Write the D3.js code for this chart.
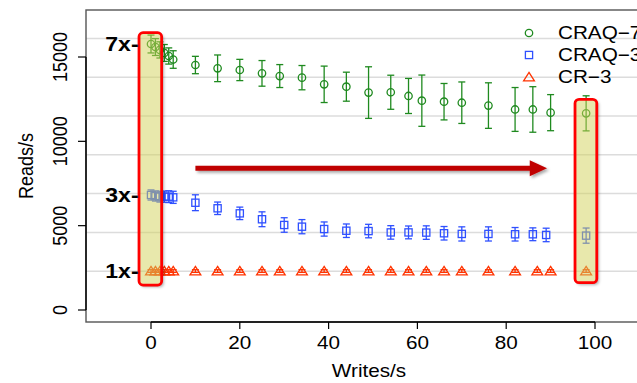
<!DOCTYPE html>
<html><head><meta charset="utf-8">
<script src="https://cdn.jsdelivr.net/npm/d3@7"></script>
<style>body{margin:0;background:#fff}svg{display:block;font-family:"Liberation Sans",Arial,Helvetica,sans-serif}</style>
</head><body><svg id="c" width="637" height="383"></svg>
<script>
// ---- data ----
const seriesNames = ["CRAQ\u22127", "CRAQ\u22123", "CR\u22123"];
const craq7X   = [0,1,2,3,4,5,10,15,20,25,29,34,39,44,49,54,58,61,66,70,76,82,86,90,98];
const craq7Y   = [15770,15590,15420,15240,15060,14850,14525,14330,14230,14030,13870,13775,13380,13240,12890,12910,12690,12410,12350,12290,12120,11890,11890,11700,11660];
const craq7Err = [530,500,480,500,480,520,515,790,630,760,680,720,1080,860,1530,1010,1040,1520,1080,1230,1350,1300,1350,1070,1040];
const craq3X   = [0,1,2,3,4,5,10,15,20,25,30,34,39,44,49,54,58,62,66,70,76,82,86,89,98];
const craq3Y   = [6820,6760,6720,6720,6720,6680,6360,6030,5730,5380,5040,4940,4800,4700,4680,4600,4600,4590,4550,4510,4510,4490,4490,4450,4410];
const craq3Err = [300,300,320,330,350,360,470,370,370,440,430,420,420,400,400,400,380,400,400,420,420,400,380,400,450];
const cr3X     = [0,1,2,3,4,5,10,15,20,25,29,34,39,44,49,54,58,62,66,70,76,82,87,90,98];
const cr3Y     = [2310,2310,2310,2310,2310,2310,2310,2310,2310,2310,2310,2310,2310,2310,2310,2310,2310,2310,2310,2310,2310,2310,2310,2310,2310];
const cr3Err   = [80,80,80,80,80,80,80,80,80,80,80,80,80,80,80,80,80,80,80,80,80,80,80,80,80];
const xTicks = [0,20,40,60,80,100];
const yTicks = [0,5000,10000,15000];
const gridValues = [2300,4600,6900,9200,11500,13800,16100];
const multLabels = ["7x-","3x-","1x-"];
const xLabel = "Writes/s", yLabel = "Reads/s";

// ---- drawing ----
const SX = 1.15; // horizontal stretch of the original image
const svg = d3.select("#c");
const x = d3.scaleLinear().domain([0,100]).range([151,595]);
const y = d3.scaleLinear().domain([0,15000]).range([310,57]);
const L = 86, R = 680, T = 10, B = 322;

const defs = svg.append("defs");
const f = defs.append("filter").attr("id","sh").attr("x","-50%").attr("y","-50%").attr("width","200%").attr("height","200%");
f.append("feDropShadow").attr("dx",2).attr("dy",2).attr("stdDeviation",1.8).attr("flood-color","#000").attr("flood-opacity",0.35);
const blur = defs.append("filter").attr("id","bl").attr("x","-50%").attr("y","-50%").attr("width","200%").attr("height","200%");
blur.append("feGaussianBlur").attr("stdDeviation",1.8);

function txt(g, s, tx, ty, opts={}) {
  const t = g.append("text")
    .attr("transform", `translate(${tx},${ty}) scale(${SX},1)` + (opts.rot ? " rotate(-90)" : ""))
    .attr("font-size", opts.size || 18)
    .attr("text-anchor", opts.anchor || "middle")
    .attr("fill", "#000")
    .text(s);
  if (opts.bold) t.attr("font-weight", "bold");
  if (opts.dy) t.attr("dy", opts.dy);
  return t;
}

// gridlines
svg.append("g").selectAll("line").data(gridValues).join("line")
  .attr("x1", L).attr("x2", R).attr("y1", d=>y(d)).attr("y2", d=>y(d))
  .attr("stroke", "#dcdcdc").attr("stroke-width", 1.5);

// box
svg.append("rect").attr("x", L).attr("y", T).attr("width", R-L).attr("height", B-T)
  .attr("fill","none").attr("stroke","#555").attr("stroke-width",1.4);

// axes
const ax = svg.append("g");
ax.append("line").attr("x1", x(0)).attr("x2", x(100)).attr("y1", B).attr("y2", B).attr("stroke","#000").attr("stroke-width",1.4);
xTicks.forEach(v => {
  ax.append("line").attr("x1", x(v)).attr("x2", x(v)).attr("y1", B).attr("y2", B+7).attr("stroke","#000").attr("stroke-width",1.2);
  txt(ax, String(v), x(v), 349);
});
ax.append("line").attr("x1", L).attr("x2", L).attr("y1", y(0)).attr("y2", y(15000)).attr("stroke","#000").attr("stroke-width",1.4);
yTicks.forEach(v => {
  ax.append("line").attr("x1", L-8).attr("x2", L).attr("y1", y(v)).attr("y2", y(v)).attr("stroke","#000").attr("stroke-width",1.2);
  txt(ax, String(v), 67, y(v), {rot:true});
});
txt(ax, xLabel, 369, 377);
txt(ax, yLabel, 33, 166, {rot:true});

// series
const series = [
  {xs: craq7X, ys: craq7Y, es: craq7Err, color: "#1f8a1f", shape: "circle"},
  {xs: craq3X, ys: craq3Y, es: craq3Err, color: "#2f50ff", shape: "square"},
  {xs: cr3X,   ys: cr3Y,   es: cr3Err,   color: "#ff3300", shape: "triangle"}
];
function marker(g, shape, cx, cy, color) {
  if (shape === "circle") {
    g.append("circle").attr("cx",cx).attr("cy",cy).attr("r",3.7).attr("fill","none").attr("stroke",color).attr("stroke-width",1.3);
  } else if (shape === "square") {
    g.append("rect").attr("x",cx-3.6).attr("y",cy-3.6).attr("width",7.2).attr("height",7.2).attr("fill","none").attr("stroke",color).attr("stroke-width",1.3);
  } else {
    g.append("path").attr("d",`M${cx},${cy-4.6}L${cx+5.4},${cy+3.8}L${cx-5.4},${cy+3.8}Z`).attr("fill","none").attr("stroke",color).attr("stroke-width",1.3);
  }
}
series.forEach(s => {
  const g = svg.append("g");
  s.xs.forEach((xv,i) => {
    const cx = x(xv), y1 = y(s.ys[i]-s.es[i]), y2 = y(s.ys[i]+s.es[i]);
    g.append("line").attr("x1",cx).attr("x2",cx).attr("y1",y1).attr("y2",y2).attr("stroke",s.color).attr("stroke-width",1.3);
    g.append("line").attr("x1",cx-3.5).attr("x2",cx+3.5).attr("y1",y1).attr("y2",y1).attr("stroke",s.color).attr("stroke-width",1.3);
    g.append("line").attr("x1",cx-3.5).attr("x2",cx+3.5).attr("y1",y2).attr("y2",y2).attr("stroke",s.color).attr("stroke-width",1.3);
    marker(g, s.shape, cx, y(s.ys[i]), s.color);
  });
});

// highlight boxes (shadow only outside the box)
const hl = svg.append("g");
[[-2.7, 2.4, 16440, 1480], [95.5, 100.4, 12490, 1620]].forEach((b,i) => {
  const bx = x(b[0]), by = y(b[2]), bw = x(b[1])-x(b[0]), bh = y(b[3])-y(b[2]);
  const m = defs.append("mask").attr("id","m"+i).attr("maskUnits","userSpaceOnUse")
    .attr("x",0).attr("y",0).attr("width",637).attr("height",383);
  m.append("rect").attr("x",0).attr("y",0).attr("width",637).attr("height",383).attr("fill","#fff");
  m.append("rect").attr("x",bx).attr("y",by).attr("width",bw).attr("height",bh).attr("rx",4).attr("fill","#000");
  hl.append("rect").attr("x",bx+2).attr("y",by+2).attr("width",bw).attr("height",bh).attr("rx",4)
    .attr("fill","rgba(0,0,0,0.35)").attr("filter","url(#bl)").attr("mask",`url(#m${i})`);
  hl.append("rect").attr("x", bx).attr("y", by).attr("width", bw).attr("height", bh)
    .attr("rx",4).attr("ry",4)
    .attr("fill","rgba(210,210,90,0.5)").attr("stroke","#ff0000").attr("stroke-width",2.8);
});

// multiplier labels
[craq7Y[0], craq3Y[0], cr3Y[0]].forEach((v,i) => {
  txt(svg, multLabels[i], x(-2.8), y(v), {bold:true, size:20, anchor:"end", dy:"0.36em"});
});

// arrow
const ay = y(8400);
const ag = svg.append("g").attr("filter","url(#sh)");
ag.append("line").attr("x1", x(10)).attr("x2", x(85.6)).attr("y1", ay).attr("y2", ay).attr("stroke","#c00000").attr("stroke-width",5);
ag.append("path").attr("d", `M${x(85.3)},${ay-8}L${x(89.2)},${ay}L${x(85.3)},${ay+8}Z`).attr("fill","#c00000");

// legend
const lg = svg.append("g");
series.forEach((s,i) => {
  const ly = 33 + i*22;
  marker(lg, s.shape, 529, ly, s.color);
  txt(lg, seriesNames[i], 558, ly, {anchor:"start", dy:"0.36em"});
});
</script></body></html>
